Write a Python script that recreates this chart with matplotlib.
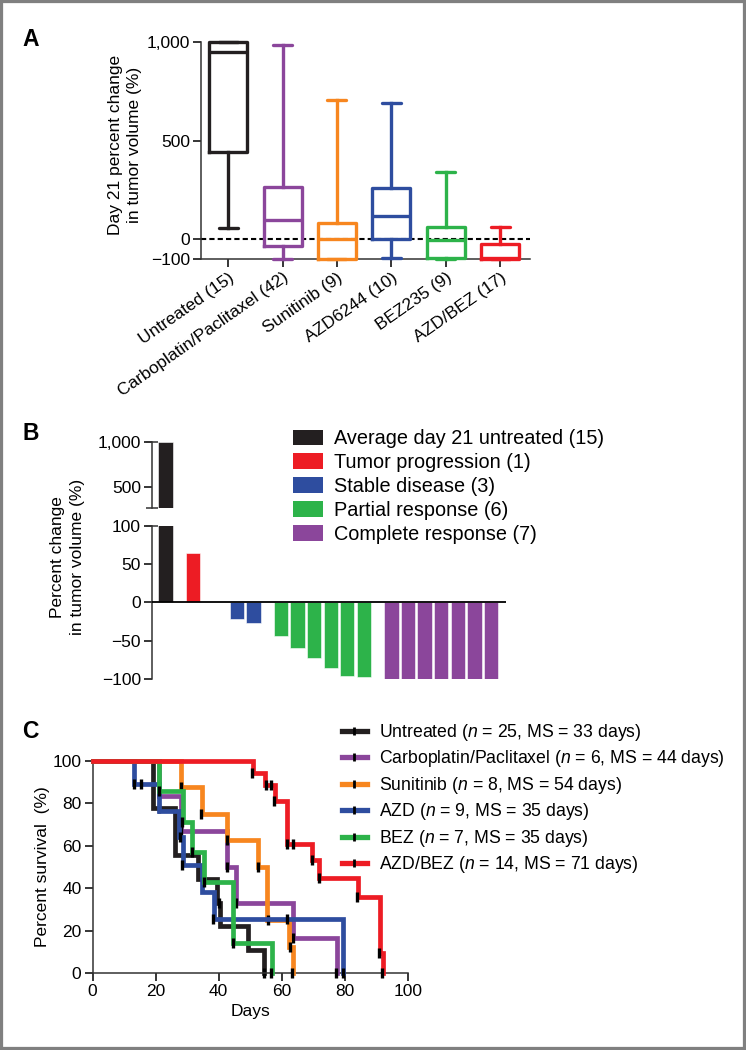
import matplotlib
matplotlib.use("Agg")
import matplotlib.pyplot as plt
from matplotlib.patches import Rectangle, Patch
from matplotlib.lines import Line2D
import numpy as np

plt.rcParams['font.family'] = ['Liberation Sans', 'DejaVu Sans']
plt.rcParams['mathtext.fontset'] = 'custom'
plt.rcParams['mathtext.it'] = 'Liberation Sans:italic'
plt.rcParams['mathtext.rm'] = 'Liberation Sans'
plt.rcParams['axes.linewidth'] = 1.1
plt.rcParams['axes.edgecolor'] = '#333333'

# ---------- panel A: day 21 box plots ----------
box_labels = ['Untreated (15)', 'Carboplatin/Paclitaxel (42)', 'Sunitinib (9)',
              'AZD6244 (10)', 'BEZ235 (9)', 'AZD/BEZ (17)']
box_whislo = [55, -100, -100, -95, -100, -100]
box_q1 = [440, -35, -100, 0, -97, -100]
box_med = [950, 100, 0, 120, -3, -93]
box_q3 = [1000, 265, 85, 260, 62, -25]
box_whishi = [1000, 983, 705, 690, 340, 60]

# ---------- panel B: waterfall ----------
wf_untreated = [1000]
wf_progression = [65]
wf_stable = [0, -22, -27]
wf_partial = [-44, -60, -72, -85, -96, -97]
wf_complete = [-100, -100, -100, -100, -100, -100, -100]
wf_names = ['Average day 21 untreated (15)', 'Tumor progression (1)', 'Stable disease (3)',
            'Partial response (6)', 'Complete response (7)']

# ---------- panel C: survival ----------
km_names = ['Untreated ($\\it{n}$ = 25, MS = 33 days)',
            'Carboplatin/Paclitaxel ($\\it{n}$ = 6, MS = 44 days)',
            'Sunitinib ($\\it{n}$ = 8, MS = 54 days)',
            'AZD ($\\it{n}$ = 9, MS = 35 days)',
            'BEZ ($\\it{n}$ = 7, MS = 35 days)',
            'AZD/BEZ ($\\it{n}$ = 14, MS = 71 days)']
t_untreated = [0, 19.3, 26.1, 33.5, 39.4, 40.4, 49.4, 54.5]
s_untreated = [100, 77.8, 55.6, 44.4, 33.3, 22.2, 11.1, 0]
t_carbo = [0, 21, 28, 42.5, 45.5, 63.5, 77.5]
s_carbo = [100, 83.3, 66.7, 50, 33.3, 16.7, 0]
t_suni = [0, 28.2, 34.6, 42.7, 52.5, 55.2, 62.2, 63.5]
s_suni = [100, 87.5, 75, 62.5, 50, 25, 12.5, 0]
t_azd = [0, 13, 21.2, 27.5, 28.6, 34.8, 38.6, 79.5]
s_azd = [100, 88.9, 76.4, 64, 51, 38.4, 25.6, 0]
t_bez = [0, 21.2, 28.6, 31.4, 35.3, 44.6, 56.8]
s_bez = [100, 85.7, 71.4, 57.1, 42.9, 14.3, 0]
t_combo = [0, 51, 54.6, 57.8, 61.5, 69.7, 71.9, 84, 91, 92]
s_combo = [100, 94, 88.5, 81.2, 60.8, 53.3, 44.7, 35.7, 9.7, 0]
# censored marks (day, percent)
c_untreated = [(21, 77.8), (40, 33.3), (54.2, 0)]
c_carbo = [(28, 66.7), (42.5, 50), (45.5, 33.3), (63.5, 16.7), (77.3, 0)]
c_suni = [(28.2, 87.5), (34.3, 75), (42.5, 62.5), (52.3, 50), (55.7, 25), (62.6, 12.5), (63.3, 0)]
c_azd = [(13.1, 88.9), (15.3, 88.9), (27.8, 64), (28.4, 51), (38.3, 25.6), (61.7, 25.6), (79.4, 0)]
c_bez = [(21.2, 85.7), (28.3, 71.4), (31.5, 57.1), (35.3, 42.9), (44.4, 14.3), (56.7, 0)]
c_combo = [(50.4, 94), (55, 88.5), (56.5, 88.5), (57.6, 81.2), (61.7, 60.8), (63.6, 60.8),
           (69.6, 53.3), (71.8, 44.7), (83.9, 35.7), (90.9, 9.7), (91.8, 0)]

colors = ['#231f20', '#8b469b', '#f7861f', '#2e4d9f', '#2db34a', '#ed1c24']

W, H = 746, 1050
fig = plt.figure(figsize=(W / 100, H / 100), dpi=100)


def box(l, t, r, b):
    return [l / W, 1 - b / H, (r - l) / W, (b - t) / H]


fs = 12.5

# ---- A ----
axA = fig.add_axes(box(201, 42, 530, 259))
stats = []
for i in range(len(box_labels)):
    stats.append(dict(med=box_med[i], q1=box_q1[i], q3=box_q3[i],
                      whislo=box_whislo[i], whishi=box_whishi[i]))
axA.axhline(0, color='black', lw=1.5, ls=(0, (2.5, 1.5)), zorder=1)
res = axA.bxp(stats, positions=np.arange(len(stats)), widths=0.7, showfliers=False,
              manage_ticks=False)
for i, c in enumerate(colors):
    for art in [res['boxes'][i], res['medians'][i]] + res['whiskers'][2 * i:2 * i + 2] + res['caps'][2 * i:2 * i + 2]:
        art.set_color(c)
        art.set_linewidth(2.4)
        art.set_clip_on(False)
        art.set_zorder(3)
    for cap in res['caps'][2 * i:2 * i + 2]:
        cap.set_solid_capstyle('round')
axA.set_xlim(-0.5, 5.55)
axA.set_ylim(-100, 1000)
axA.set_yticks([-100, 0, 500, 1000])
axA.set_yticklabels(['\u2212100', '0', '500', '1,000'], fontsize=fs)
axA.set_xticks(np.arange(len(box_labels)))
axA.set_xticklabels(box_labels, rotation=35, ha='right', rotation_mode='anchor', fontsize=fs)
axA.tick_params(length=6, width=1.1, pad=2)
for s in ['top', 'right']:
    axA.spines[s].set_visible(False)
fig.text(125 / W, 1 - 145 / H, 'Day 21 percent change\nin tumor volume (%)', rotation=90,
         ha='center', va='center', fontsize=fs, multialignment='center', linespacing=1.4)

# ---- B ----
groups = [wf_untreated, wf_progression, wf_stable, wf_partial, wf_complete]
xs, vals, cols = [], [], []
pos = 0.0
for g, vals_g in enumerate(groups):
    for v in vals_g:
        xs.append(pos)
        vals.append(v)
        cols.append(colors[[0, 5, 3, 4, 1][g]])
        pos += 1
    pos += 0.65
xs = np.array(xs)
vals = np.array(vals)

axBu = fig.add_axes(box(152, 442, 506, 508))
axBl = fig.add_axes(box(152, 525.7, 506, 679))
for ax in (axBu, axBl):
    ax.bar(xs, vals, width=0.86, color=cols, edgecolor='white', linewidth=0.4)
    ax.set_xlim(-0.81, 20.5)
    ax.set_xticks([])
    for s in ['top', 'right', 'bottom']:
        ax.spines[s].set_visible(False)
    ax.tick_params(length=6, width=1.1, pad=2, labelsize=fs)
axBu.set_ylim(270, 1000)
axBu.set_yticks([500, 1000])
axBu.set_yticklabels(['500', '1,000'])
axBl.set_ylim(-100, 100)
axBl.set_yticks([-100, -50, 0, 50, 100])
axBl.set_yticklabels(['\u2212100', '\u221250', '0', '50', '100'])
axBl.axhline(0, color='black', lw=1.3, zorder=3)
# break caps
axBu.plot([-0.81], [270], marker='_', ms=9, mew=1.1, color='#333333', clip_on=False)
axBl.plot([-0.81], [100], marker='_', ms=9, mew=1.1, color='#333333', clip_on=False)
axBu.plot([-0.81], [1000], marker='_', ms=9, mew=1.1, color='#333333', clip_on=False)

handlesB = [Patch(facecolor=colors[k], edgecolor='none') for k in [0, 5, 3, 4, 1]]
fig.legend(handlesB, wf_names, loc='upper left', bbox_to_anchor=(293 / W, 1 - 429 / H),
           frameon=False, fontsize=14.3, handlelength=1.5, handleheight=0.8,
           handletextpad=0.58, labelspacing=0.25, borderpad=0, borderaxespad=0)
fig.text(67.5 / W, 1 - 557 / H, 'Percent change\nin tumor volume (%)', rotation=90,
         ha='center', va='center', fontsize=fs, multialignment='center', linespacing=1.4)

# ---- C ----
axC = fig.add_axes(box(92.5, 760.7, 408, 973.3))
series = [(t_untreated, s_untreated, c_untreated), (t_carbo, s_carbo, c_carbo),
          (t_suni, s_suni, c_suni), (t_azd, s_azd, c_azd), (t_bez, s_bez, c_bez),
          (t_combo, s_combo, c_combo)]
for k, (t, s, cens) in enumerate(series):
    axC.step(t, s, where='post', color=colors[k], lw=3.4, clip_on=False, zorder=2 + k,
             solid_joinstyle='miter')
    cx = [p[0] for p in cens]
    cy = [p[1] for p in cens]
    axC.plot(cx, cy, ls='none', marker='|', ms=6.5, mew=2.4, color='black',
             clip_on=False, zorder=2 + k)
axC.set_xlim(0, 100)
axC.set_ylim(0, 100)
axC.set_xticks(np.arange(0, 101, 20))
axC.set_yticks(np.arange(0, 101, 20))
axC.tick_params(length=6, width=1.1, pad=2, labelsize=fs)
for s in ['top', 'right']:
    axC.spines[s].set_visible(False)
axC.set_xlabel('Days', fontsize=fs, labelpad=3)
fig.text(43 / W, 1 - 867 / H, 'Percent survival  (%)', rotation=90,
         ha='center', va='center', fontsize=fs)
handlesC = [Line2D([], [], color=c, lw=3.8, marker='|', ms=6, mew=2, mec='black')
            for c in colors]
fig.legend(handlesC, km_names, loc='upper left', bbox_to_anchor=(342 / W, 1 - 722 / H),
           frameon=False, fontsize=12.7, handlelength=1.4, handletextpad=0.7,
           labelspacing=0.31, borderpad=0, borderaxespad=0, numpoints=1)

# panel letters
for letter, y in [('A', 40), ('B', 434), ('C', 731)]:
    fig.text(22 / W, 1 - y / H, letter, fontsize=16.5, fontweight='bold', va='center', ha='left')

fig.patches.append(Rectangle((0, 0), 1, 1, transform=fig.transFigure, fill=False,
                             edgecolor='#808080', lw=4.5))

fig.savefig('out.png', dpi=100)
